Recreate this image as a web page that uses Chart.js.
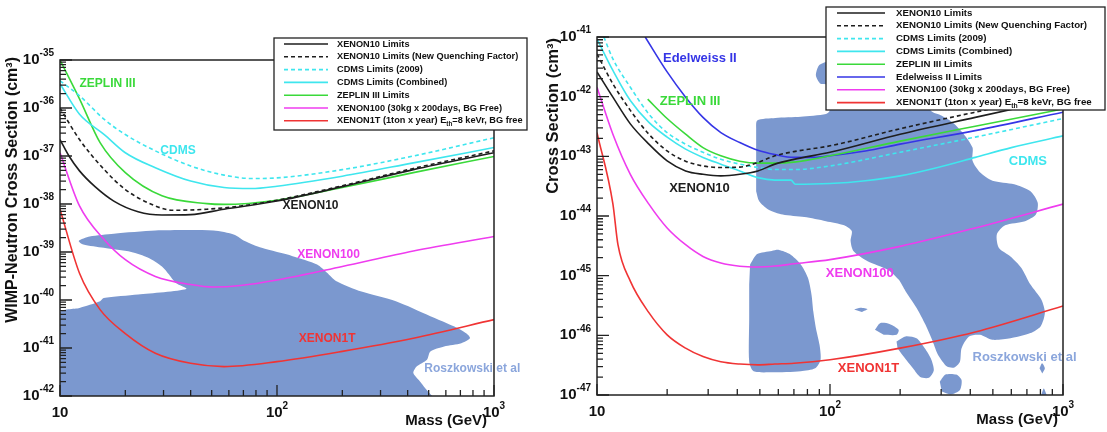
<!DOCTYPE html>
<html>
<head>
<meta charset="utf-8">
<title>WIMP cross section limits</title>
<script src="https://cdn.jsdelivr.net/npm/chart.js@4.4.1/dist/chart.umd.min.js"></script>
<style>
  body { margin: 0; background: #fff; }
  #wrap { position: relative; width: 1107px; height: 432px; overflow: hidden; background: #fff; }
  canvas { position: absolute; top: 0; }
  #leftChart { left: 0; }
  #rightChart { left: 540px; }
</style>
</head>
<body>
<div id="wrap">
  <canvas id="leftChart" width="540" height="432"></canvas>
  <canvas id="rightChart" width="567" height="432"></canvas>
</div>
<script>
const FONT = "'Liberation Sans', Arial, Helvetica, sans-serif";
const C_BLACK = '#1e1e1e';
const C_CYAN = '#3fe6ee';
const C_GREEN = '#3ad93a';
const C_MAGENTA = '#ef3cef';
const C_RED = '#f03434';
const C_BLUE = '#3535e6';
const C_REGION = '#7b98cf';
const C_ROSZ = '#8ba6dc';

// ---------- axis ticks ----------
const xTickValues = [10, 100, 1000];
const xTickLabels = [['10', ''], ['10', '2'], ['10', '3']];
const leftYTickExp = [-35, -36, -37, -38, -39, -40, -41, -42];
const rightYTickExp = [-41, -42, -43, -44, -45, -46, -47];

// ---------- left panel (WIMP-neutron) ----------
const leftX10Mass = [10, 11, 12.3, 14.5, 17.7, 22.9, 29.5, 40, 57, 100, 200, 425, 1000];
const leftX10Sigma = [2.2e-37, 1.0e-37, 4.9e-38, 2.3e-38, 1.15e-38, 6.9e-39, 5.9e-39, 6.0e-39, 7.8e-39, 1.15e-38, 2.3e-38, 5.2e-38, 1.17e-37];

const leftX10QfMass = [10, 12.3, 16, 20, 27.5, 33, 47.5, 68, 100, 200, 425, 1000];
const leftX10QfSigma = [1.0e-36, 2.2e-37, 5.2e-38, 2.0e-38, 9.1e-39, 7.4e-39, 7.8e-39, 9.1e-39, 1.2e-38, 2.4e-38, 5.5e-38, 1.28e-37];

const leftCdms09Mass = [10, 12.3, 16, 20, 27.5, 40, 57, 76, 100, 200, 425, 1000];
const leftCdms09Sigma = [3.7e-36, 1.8e-36, 5.8e-37, 2.8e-37, 1.28e-37, 6.2e-38, 4.0e-38, 3.4e-38, 3.5e-38, 5.2e-38, 1.0e-37, 2.4e-37];

const leftCdmsMass = [10, 12.3, 16, 20, 27.5, 40, 57, 76, 100, 200, 425, 1000];
const leftCdmsSigma = [3.2e-36, 7.4e-37, 2.8e-37, 1.17e-37, 5.7e-38, 3.0e-38, 2.2e-38, 2.1e-38, 2.35e-38, 3.8e-38, 7.2e-38, 1.5e-37];

const leftZeplinMass = [10, 12.3, 15.3, 20, 29.5, 47.5, 57, 100, 200, 425, 1000];
const leftZeplinSigma = [1e-35, 1.55e-36, 1.9e-37, 4.5e-38, 1.48e-38, 1.02e-38, 9.8e-39, 1.2e-38, 2.2e-38, 4.5e-38, 9.8e-38];

const leftX100Mass = [10, 12.3, 16, 20, 27.5, 40, 51, 68, 100, 200, 425, 1000];
const leftX100Sigma = [1.17e-37, 9.1e-39, 1.8e-39, 6.9e-40, 3.1e-40, 2.1e-40, 1.86e-40, 2.0e-40, 2.6e-40, 5.0e-40, 1.05e-39, 2.1e-39];

const leftX1tMass = [10, 12.3, 15.3, 20, 27.5, 40, 57, 100, 200, 425, 1000];
const leftX1tSigma = [7.8e-39, 3.6e-40, 6.3e-41, 2.0e-41, 7.8e-42, 4.8e-42, 4.1e-42, 5.2e-42, 8.5e-42, 1.6e-41, 3.9e-41];

// Roszkowski et al region, outline as [mass, sigma]
const leftRegion = [
  [10, 1e-42], [10, 5.4e-41], [12.3, 6.8e-41], [15.3, 9.4e-41], [15.9, 1.1e-40], [22.9, 1.3e-40], [38.2, 1.7e-40],
  [34.2, 2.26e-40], [31.8, 3.4e-40], [29.5, 5.0e-40], [25.5, 7.6e-40], [21.3, 1.0e-39], [15.9, 1.22e-39],
  [12.8, 1.43e-39], [12.2, 1.7e-39], [13.7, 2.1e-39], [17.7, 2.4e-39], [27.5, 2.8e-39], [51, 2.8e-39],
  [63.6, 2.3e-39], [71, 1.7e-39], [85, 1.22e-39], [118, 8.2e-40], [153, 5.5e-40], [170, 3.7e-40], [187, 2.5e-40],
  [245, 1.5e-40], [353, 9.4e-41], [509, 4.6e-41], [657, 2.8e-41], [747, 2.0e-41], [775, 1.6e-41], [707, 1.26e-41],
  [589, 1.08e-41], [509, 8.5e-42], [491, 5.7e-42], [440, 4.1e-42], [425, 3.0e-42], [456, 2.0e-42], [482, 1.45e-42],
  [519, 1e-42]
];

// ---------- right panel ----------
const rightMass = [10, 11.7, 13.9, 16.7, 20, 24, 28.5, 34, 41, 49, 58, 70, 100, 200, 420, 1000];
const rightX10Sigma = [2.6e-42, 9.8e-43, 3.5e-43, 1.6e-43, 8.4e-44, 5.7e-44, 5.0e-44, 4.7e-44, 5.0e-44, 5.7e-44, 7.4e-44, 8.9e-44, 1.17e-43, 2.35e-43, 4.5e-43, 9.5e-43];
const rightX10QfSigma = [5.2e-42, 1.64e-42, 5.9e-43, 2.35e-43, 1.23e-43, 8.3e-44, 6.9e-44, 6.5e-44, 6.6e-44, 7.9e-44, 1.02e-43, 1.2e-43, 1.5e-43, 2.9e-43, 5.5e-43, 1.12e-42];
const rightX100Sigma = [1.44e-42, 2.35e-43, 5.0e-44, 1.58e-44, 6.3e-45, 3.3e-45, 2.1e-45, 1.63e-45, 1.44e-45, 1.4e-45, 1.45e-45, 1.58e-45, 1.86e-45, 3.1e-45, 6.3e-45, 1.58e-44];

const rightCdms09Mass = [10.7, 11.7, 13.9, 16.7, 20, 24, 28.5, 34, 41, 49, 58, 70, 100, 200, 420, 1000];
const rightCdms09Sigma = [1e-41, 4.3e-42, 1.44e-42, 5.1e-43, 2.5e-43, 1.6e-43, 1.17e-43, 8.9e-44, 7.4e-44, 6.5e-44, 6.0e-44, 6.0e-44, 6.9e-44, 1.17e-43, 2.1e-43, 4.3e-43];

const rightCdmsMass = [10, 11.7, 13.9, 16.7, 20, 24, 28.5, 34, 41, 49, 58, 68, 71, 100, 142, 200, 290, 420, 600, 1000];
const rightCdmsSigma = [9.3e-42, 2.75e-42, 8.6e-43, 3.7e-43, 2.1e-43, 1.32e-43, 9.6e-44, 7.4e-44, 5.7e-44, 4.4e-44, 4.0e-44, 4.0e-44, 3.4e-44, 3.5e-44, 3.9e-44, 4.7e-44, 6.5e-44, 9.6e-44, 1.4e-43, 2.2e-43];

const rightZeplinMass = [16.5, 20, 24, 28.5, 34, 41, 49, 58, 70, 100, 200, 420, 1000];
const rightZeplinSigma = [9.1e-43, 4.3e-43, 2.35e-43, 1.4e-43, 1.02e-43, 8.3e-44, 7.7e-44, 7.7e-44, 8.0e-44, 1.02e-43, 1.8e-43, 3.2e-43, 6.2e-43];

const rightEdelMass = [16.1, 20, 24, 28.5, 34, 41, 49, 58, 70, 86, 100, 142, 200, 420, 1000];
const rightEdelSigma = [1e-41, 2.6e-42, 9.8e-43, 4.5e-43, 2.5e-43, 1.7e-43, 1.26e-43, 1.07e-43, 9.6e-44, 9.6e-44, 1.02e-43, 1.23e-43, 1.6e-43, 2.7e-43, 5.5e-43];

const rightX1tMass = [10, 11.7, 12.3, 13.9, 16.7, 20, 24, 28.5, 34, 41, 49, 58, 70, 100, 200, 420, 1000];
const rightX1tSigma = [2.5e-43, 1.6e-44, 3.3e-45, 8.1e-46, 2.4e-46, 1.02e-46, 6.1e-47, 4.4e-47, 3.6e-47, 3.3e-47, 3.2e-47, 3.3e-47, 3.4e-47, 3.9e-47, 6.1e-47, 1.14e-46, 3.1e-46];

const rightRegionMain = [
  [48.2, 2.7e-43], [48.7, 4.0e-43], [58.3, 4.4e-43], [74.9, 4.6e-43], [96.1, 5.1e-43], [99.6, 5.8e-43],
  [99.6, 1.54e-42], [91.1, 1.64e-42], [87.0, 2.26e-42], [89.5, 3.3e-42], [96.1, 3.8e-42], [119, 4.0e-42],
  [244, 1.64e-42], [271, 5.8e-43], [302, 4.8e-43], [336, 3.7e-43], [374, 2.4e-43], [409, 1.4e-43], [409, 8.4e-44],
  [440, 5.4e-44], [498, 3.9e-44], [617, 3.4e-44], [725, 2.6e-44], [779, 1.67e-44], [765, 1.06e-44], [687, 8.2e-45],
  [564, 7.0e-45], [520, 4.9e-45], [531, 2.9e-45], [595, 2.1e-45], [663, 1.35e-45], [725, 7.1e-46], [807, 4.0e-46],
  [836, 2.4e-46], [801, 1.41e-46], [725, 1.09e-46], [595, 8.9e-47], [498, 8.4e-47], [440, 1.02e-46], [395, 9.6e-47],
  [367, 6.1e-47], [361, 3.6e-47], [342, 2.9e-47], [318, 3.0e-47], [291, 4.7e-47], [276, 7.9e-47],
  [257, 1.5e-46], [235, 2.9e-46], [211, 5.5e-46], [197, 8.6e-46], [177, 1.26e-45], [145, 1.75e-45], [126, 2.6e-45],
  [122.6, 3.8e-45], [124, 5.6e-45], [115, 7.0e-45], [96.1, 8.2e-45], [77.6, 9.6e-45], [62.6, 1.06e-44],
  [54.3, 1.29e-44], [49.6, 1.79e-44], [48.2, 2.6e-44]
];
const rightRegionLow = [
  [45.4, 1.54e-45], [48.7, 2.3e-45], [56.2, 2.6e-45], [60.4, 2.7e-45], [67.2, 2.3e-45], [74.9, 1.54e-45],
  [80.4, 9.2e-46], [83.3, 4.8e-46], [84.8, 2.5e-46], [87.0, 1.32e-46], [90.2, 6.9e-47], [91.1, 3.9e-47],
  [86.4, 2.8e-47], [74.9, 2.5e-47], [56.2, 2.4e-47], [47.0, 2.5e-47], [45.0, 3.6e-47], [45.0, 1.95e-46], [45.0, 7.1e-46]
];
const rightIslands = [
  [[127, 2.7e-46], [135, 2.9e-46], [145, 2.75e-46], [137, 2.45e-46]],
  [[156, 1.24e-46], [164, 1.6e-46], [180, 1.55e-46], [197, 1.24e-46], [193, 1.02e-46], [170, 1.02e-46]],
  [[193, 7.9e-47], [211, 9.6e-47], [235, 8.9e-47], [252, 6.5e-47], [271, 4.1e-47], [279, 2.6e-47], [266, 1.95e-47],
   [244, 2.0e-47], [227, 2.8e-47], [207, 4.4e-47], [195, 6.1e-47]],
  [[296, 1.67e-47], [313, 2.2e-47], [348, 2.2e-47], [367, 1.78e-47], [361, 1.21e-47], [330, 1.02e-47], [302, 1.14e-47]],
  [[793, 2.8e-47], [813, 3.4e-47], [836, 2.8e-47], [815, 2.3e-47]],
  [[807, 1e-47], [827, 1.29e-47], [851, 1e-47]]
];

// curve labels: text, anchor mass, anchor sigma, colour
const leftLabels = [
  { text: 'ZEPLIN III', m: 12.3, s: 3.2e-36, color: C_GREEN },
  { text: 'CDMS', m: 29, s: 1.3e-37, color: C_CYAN },
  { text: 'XENON10', m: 106, s: 9.1e-39, color: C_BLACK },
  { text: 'XENON100', m: 124, s: 8.9e-40, color: C_MAGENTA },
  { text: 'XENON1T', m: 126, s: 1.55e-41, color: C_RED },
  { text: 'Roszkowski et al', m: 477, s: 3.7e-42, color: C_ROSZ }
];
const rightLabels = [
  { text: 'Edelweiss II', m: 19.2, s: 4.3e-42, color: C_BLUE },
  { text: 'ZEPLIN III', m: 18.6, s: 8.3e-43, color: C_GREEN },
  { text: 'XENON10', m: 20.4, s: 2.9e-44, color: C_BLACK },
  { text: 'CDMS', m: 585, s: 8.1e-44, color: C_CYAN },
  { text: 'XENON100', m: 96, s: 1.11e-45, color: C_MAGENTA },
  { text: 'XENON1T', m: 108, s: 2.8e-47, color: C_RED },
  { text: 'Roszkowski et al', m: 409, s: 4.2e-47, color: C_ROSZ }
];

// ---------- dataset builders ----------
function curve(label, mass, sigma, color, dashed) {
  return {
    label: label,
    data: mass.map((m, i) => ({ x: m, y: sigma[i] })),
    borderColor: color,
    backgroundColor: color,
    borderWidth: 1.6,
    borderDash: dashed ? [4, 3] : [],
    showLine: true,
    pointRadius: 0,
    fill: false,
    cubicInterpolationMode: 'monotone'
  };
}

function region(points) {
  return {
    label: '',
    data: points.map(p => ({ x: p[0], y: p[1] })),
    showLine: true,
    pointRadius: 0,
    borderWidth: 0,
    borderColor: C_REGION,
    backgroundColor: C_REGION,
    fill: 'shape',
    tension: 0.25,
    order: 10
  };
}

// draws "10" with a raised exponent
function drawPower(ctx, base, exp, x, y, align, size) {
  const expSize = Math.round(size * 0.64);
  ctx.font = 'bold ' + size + 'px ' + FONT;
  const wb = ctx.measureText(base).width;
  ctx.font = 'bold ' + expSize + 'px ' + FONT;
  const we = exp ? ctx.measureText(exp).width : 0;
  let x0 = x;
  if (align === 'right') x0 = x - wb - we;
  if (align === 'center') x0 = x - (wb + we) / 2;
  ctx.textAlign = 'left';
  ctx.textBaseline = 'middle';
  ctx.font = 'bold ' + size + 'px ' + FONT;
  ctx.fillText(base, x0, y);
  if (exp) {
    ctx.font = 'bold ' + expSize + 'px ' + FONT;
    ctx.fillText(exp, x0 + wb, y - size * 0.42);
  }
}

// text with "_sub" parts drawn as subscripts
function drawRich(ctx, text, x, y, size) {
  const parts = text.split(/_(\w+)/);
  let cx = x;
  parts.forEach((p, i) => {
    const sub = i % 2 === 1;
    ctx.font = 'bold ' + (sub ? size * 0.7 : size) + 'px ' + FONT;
    ctx.fillText(p, cx, sub ? y + size * 0.35 : y);
    cx += ctx.measureText(p).width;
  });
}

// ROOT-like frame, ticks, labels, titles and legend
const rootFrame = {
  id: 'rootFrame',
  afterDatasetsDraw(chart, args, opts) {
    const ctx = chart.ctx;
    const a = chart.chartArea;
    const xs = chart.scales.x;
    const ys = chart.scales.y;
    ctx.save();

    // curve names
    ctx.textAlign = 'left';
    ctx.textBaseline = 'middle';
    opts.labels.forEach(l => {
      ctx.font = 'bold ' + opts.labelSize + 'px ' + FONT;
      ctx.fillStyle = l.color;
      ctx.fillText(l.text, xs.getPixelForValue(l.m), ys.getPixelForValue(l.s));
    });

    // frame
    ctx.strokeStyle = '#222';
    ctx.lineWidth = 1.5;
    ctx.strokeRect(a.left, a.top, a.right - a.left, a.bottom - a.top);

    // ticks pointing inwards
    ctx.lineWidth = 1.3;
    ctx.beginPath();
    const yLo = Math.round(Math.log10(ys.min));
    const yHi = Math.round(Math.log10(ys.max));
    for (let e = yLo; e <= yHi; e++) {
      for (let k = 1; k <= 9; k++) {
        const v = k * Math.pow(10, e);
        if (v > ys.max * 1.001) continue;
        const py = ys.getPixelForValue(v);
        ctx.moveTo(a.left, py);
        ctx.lineTo(a.left + (k === 1 ? 12 : 6), py);
      }
    }
    const xLo = Math.round(Math.log10(xs.min));
    const xHi = Math.round(Math.log10(xs.max));
    for (let e = xLo; e <= xHi; e++) {
      for (let k = 1; k <= 9; k++) {
        const v = k * Math.pow(10, e);
        if (v > xs.max * 1.001) continue;
        const px = xs.getPixelForValue(v);
        ctx.moveTo(px, a.bottom);
        ctx.lineTo(px, a.bottom - (k === 1 ? 11 : 6));
      }
    }
    ctx.stroke();

    // tick labels
    ctx.fillStyle = '#111';
    opts.yTicks.forEach(e => {
      drawPower(ctx, '10', String(e), a.left - 6, ys.getPixelForValue(Math.pow(10, e)), 'right', 15);
    });
    xTickValues.forEach((v, i) => {
      drawPower(ctx, xTickLabels[i][0], xTickLabels[i][1], xs.getPixelForValue(v), a.bottom + 17, 'center', 15);
    });

    // axis titles
    ctx.font = 'bold ' + opts.yTitleSize + 'px ' + FONT;
    ctx.textBaseline = 'middle';
    ctx.save();
    ctx.translate(opts.yTitleX, a.top + opts.yTitleShift);
    ctx.rotate(-Math.PI / 2);
    ctx.textAlign = 'right';
    ctx.fillText(opts.yTitle, 0, 0);
    ctx.restore();
    ctx.font = 'bold 15px ' + FONT;
    ctx.textAlign = 'right';
    ctx.fillText('Mass (GeV)', a.right - opts.xTitleInset, a.bottom + 25);
    ctx.restore();
  },
  afterDraw(chart, args, opts) {
    const ctx = chart.ctx;
    const b = opts.legendBox;
    ctx.save();
    ctx.fillStyle = '#fff';
    ctx.fillRect(b.x, b.y, b.w, b.h);
    ctx.strokeStyle = '#222';
    ctx.lineWidth = 1.3;
    ctx.strokeRect(b.x, b.y, b.w, b.h);
    const items = chart.data.datasets.filter(d => d.label);
    items.forEach((d, i) => {
      const y = b.y + 6 + i * 12.8;
      ctx.strokeStyle = d.borderColor;
      ctx.lineWidth = 1.6;
      ctx.setLineDash(d.borderDash);
      ctx.beginPath();
      ctx.moveTo(b.x + b.lineX, y);
      ctx.lineTo(b.x + b.lineX + b.lineLen, y);
      ctx.stroke();
      ctx.setLineDash([]);
      ctx.fillStyle = '#111';
      ctx.textAlign = 'left';
      ctx.textBaseline = 'middle';
      drawRich(ctx, d.label, b.x + b.textX, y, b.fontSize);
    });
    ctx.restore();
  }
};

function makeChart(id, datasets, yMin, yMax, padding, frameOpts) {
  return new Chart(document.getElementById(id), {
    type: 'scatter',
    data: { datasets: datasets },
    options: {
      responsive: false,
      animation: false,
      events: [],
      layout: { padding: padding },
      scales: {
        x: { type: 'logarithmic', min: 10, max: 1000, display: false },
        y: { type: 'logarithmic', min: yMin, max: yMax, display: false }
      },
      plugins: {
        legend: { display: false },
        tooltip: { enabled: false },
        rootFrame: frameOpts
      }
    },
    plugins: [rootFrame]
  });
}

makeChart('leftChart', [
  curve('XENON10 Limits', leftX10Mass, leftX10Sigma, C_BLACK, false),
  curve('XENON10 Limits (New Quenching Factor)', leftX10QfMass, leftX10QfSigma, C_BLACK, true),
  curve('CDMS Limits (2009)', leftCdms09Mass, leftCdms09Sigma, C_CYAN, true),
  curve('CDMS Limits (Combined)', leftCdmsMass, leftCdmsSigma, C_CYAN, false),
  curve('ZEPLIN III Limits', leftZeplinMass, leftZeplinSigma, C_GREEN, false),
  curve('XENON100 (30kg x 200days, BG Free)', leftX100Mass, leftX100Sigma, C_MAGENTA, false),
  curve('XENON1T (1ton x year) E_th=8 keVr, BG free', leftX1tMass, leftX1tSigma, C_RED, false),
  region(leftRegion)
], 1e-42, 1e-35, { left: 60, top: 60, right: 46, bottom: 36 }, {
  labels: leftLabels,
  labelSize: 12,
  yTicks: leftYTickExp,
  yTitle: 'WIMP-Neutron Cross Section (cm\u00b3)',
  yTitleSize: 16,
  yTitleX: 13,
  yTitleShift: -3,
  xTitleInset: 7,
  legendBox: { x: 274, y: 38, w: 253, h: 92, lineX: 10, lineLen: 44, textX: 63, fontSize: 9.2 }
});

makeChart('rightChart', [
  curve('XENON10 Limits', rightMass, rightX10Sigma, C_BLACK, false),
  curve('XENON10 Limits (New Quenching Factor)', rightMass, rightX10QfSigma, C_BLACK, true),
  curve('CDMS Limits (2009)', rightCdms09Mass, rightCdms09Sigma, C_CYAN, true),
  curve('CDMS Limits (Combined)', rightCdmsMass, rightCdmsSigma, C_CYAN, false),
  curve('ZEPLIN III Limits', rightZeplinMass, rightZeplinSigma, C_GREEN, false),
  curve('Edelweiss II Limits', rightEdelMass, rightEdelSigma, C_BLUE, false),
  curve('XENON100 (30kg x 200days, BG Free)', rightMass, rightX100Sigma, C_MAGENTA, false),
  curve('XENON1T (1ton x year) E_th=8 keVr, BG free', rightX1tMass, rightX1tSigma, C_RED, false),
  region(rightRegionMain),
  region(rightRegionLow)
].concat(rightIslands.map(region)), 1e-47, 1e-41, { left: 57, top: 37, right: 44, bottom: 37 }, {
  labels: rightLabels,
  labelSize: 13,
  yTicks: rightYTickExp,
  yTitle: 'Cross Section (cm\u00b3)',
  yTitleSize: 16.5,
  yTitleX: 13,
  yTitleShift: 1,
  xTitleInset: 5,
  legendBox: { x: 286, y: 7, w: 279, h: 103, lineX: 11, lineLen: 48, textX: 70, fontSize: 9.7 }
});
</script>
</body>
</html>
